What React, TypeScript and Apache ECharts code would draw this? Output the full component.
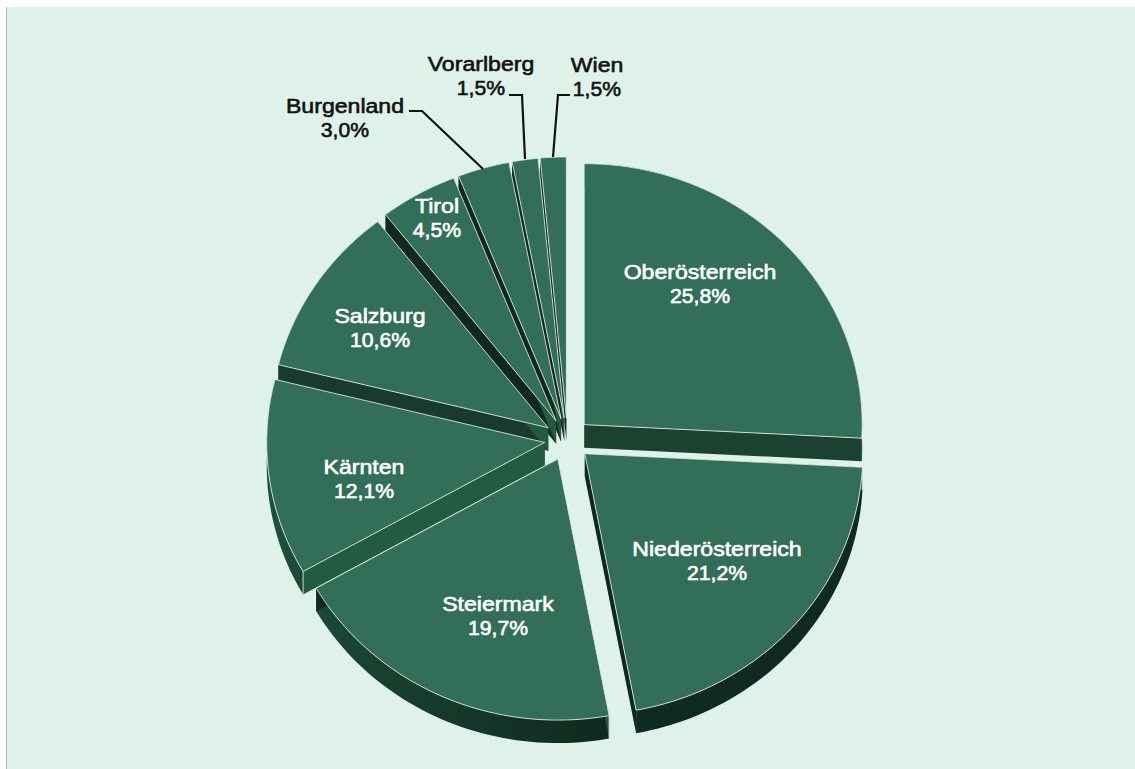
import React, { useEffect, useRef } from "react";
import * as echarts from "echarts";

// Regional shares in percent, clockwise from twelve o'clock.
const regions = ["Oberösterreich", "Niederösterreich", "Steiermark", "Kärnten", "Salzburg", "Tirol", "Burgenland", "Vorarlberg", "Wien"];
const shares = [25.8, 21.2, 19.7, 12.1, 10.6, 4.5, 3.0, 1.5, 1.5];

// Pie geometry in pixels.
const CX = 567.5, CY = 439.5, RX = 278, RY = 261, DEPTH = 23, EXPLODE = 23;

// Label centres and leader lines, by region index.
const labelCentres: [number, number][] = [
  [700, 284], [717, 561], [498, 616], [364, 479], [380, 328], [437, 218], [345, 118], [481, 76], [597, 77],
];
const leaders: Record<number, [number, number][]> = {
  6: [[409, 111], [422, 111], [483, 169]],
  7: [[509, 95], [522, 95], [525, 159]],
  8: [[570, 95], [558, 95], [553, 157]],
};
const OUTSIDE_FROM = 6;

const BACKGROUND = "#dff2ea";
const TOP_FILL = "#336f58";
const EDGE = "rgba(232,244,238,0.8)";

const hexToRgb = (h: string) => [1, 3, 5].map((i) => parseInt(h.slice(i, i + 2), 16));
const mix = (a: string, b: string, t: number) => {
  const k = Math.max(0, Math.min(1, t));
  const [p, q] = [hexToRgb(a), hexToRgb(b)];
  return `rgb(${p.map((v, i) => Math.round(v + (q[i] - v) * k)).join(",")})`;
};

// Flat faces get darker as their normal turns from lower right to lower left.
const sideColor = (normalDeg: number) => {
  if (normalDeg < 185) return mix("#235a42", "#1a4030", (normalDeg - 150) / 35);
  return mix("#1a4030", "#10281e", (normalDeg - 185) / 47);
};
// The rim is darkest at the bottom and lightens toward the left.
const rimColor = (deg: number) => mix("#0f2a1e", "#1f4e3a", (deg - 170) / 80);

const total = shares.reduce((a, b) => a + b, 0);
const startOf = shares.map((_, i) => shares.slice(0, i).reduce((a, b) => a + b, 0));
const toDeg = (share: number) => (share / total) * 360;
const rad = (d: number) => (d * Math.PI) / 180;

// Slices nearer the viewer are painted later.
const paintRank = (() => {
  const order = shares
    .map((v, i) => ({ i, y: -Math.cos(rad(toDeg(startOf[i] + v / 2))) }))
    .sort((a, b) => a.y - b.y);
  const rank: number[] = [];
  order.forEach((o, r) => (rank[o.i] = r));
  return rank;
})();

function labelLine(text: string, x: number, y: number, ink: string, scaleX: number) {
  return {
    type: "text",
    z2: 200,
    x,
    y,
    scaleX,
    style: {
      text,
      fill: ink,
      stroke: ink,
      lineWidth: 0.6,
      font: '21px "Liberation Sans", Arial, sans-serif',
      align: "center",
      verticalAlign: "middle",
    },
  };
}

function renderSlice(params: any, api: any) {
  const i = params.dataIndex;
  const value = api.value(0);
  const d0 = toDeg(startOf[i]);
  const d1 = d0 + toDeg(value);
  const mid = (d0 + d1) / 2;
  const ax = CX + EXPLODE * Math.sin(rad(mid));
  const ay = CY - EXPLODE * (RY / RX) * Math.cos(rad(mid));
  const at = (d: number): [number, number] => [ax + RX * Math.sin(rad(d)), ay - RY * Math.cos(rad(d))];

  const steps = Math.max(4, Math.ceil((d1 - d0) / 1.5));
  const arc: [number, number][] = [];
  for (let s = 0; s <= steps; s++) arc.push(at(d0 + ((d1 - d0) * s) / steps));
  const drop = (p: [number, number]): [number, number] => [p[0], p[1] + DEPTH];

  const base = paintRank[i] * 10;
  const children: any[] = [];

  // Outer wall, shaded along its length.
  const xs = arc.map((p) => p[0]);
  const xMin = Math.min(...xs), xMax = Math.max(...xs);
  const stops = arc
    .map((p, s) => ({
      offset: (p[0] - xMin) / Math.max(1, xMax - xMin),
      color: rimColor(d0 + ((d1 - d0) * s) / steps),
    }))
    .sort((a, b) => a.offset - b.offset);
  children.push({
    type: "polygon",
    z2: base,
    shape: { points: [...arc, ...arc.map(drop).reverse()] },
    style: {
      fill: { type: "linear", x: xMin, y: 0, x2: xMax, y2: 0, global: true, colorStops: stops },
    },
  });

  // Flat cut faces at both ends of the slice.
  const apex: [number, number] = [ax, ay];
  const faces: [[number, number], number][] = [
    [arc[0], d0 - 90 < 0 ? d0 + 270 : d0 - 90],
    [arc[arc.length - 1], (d1 + 90) % 360],
  ];
  faces.forEach(([corner, normal]) => {
    const fill = sideColor(normal);
    children.push({
      type: "polygon",
      z2: base + 1,
      shape: { points: [apex, corner, drop(corner), drop(apex)] },
      style: { fill },
    });
    if (normal < 170) {
      children.push({
        type: "line",
        z2: base + 2,
        shape: { x1: corner[0], y1: corner[1], x2: corner[0], y2: corner[1] + DEPTH },
        style: { stroke: EDGE, lineWidth: 1 },
      });
    }
  });

  // Top of the slice.
  children.push({
    type: "polygon",
    z2: base + 3,
    shape: { points: [apex, ...arc] },
    style: { fill: TOP_FILL, stroke: EDGE, lineWidth: 1, lineJoin: "round" },
  });

  const [lx, ly] = labelCentres[i];
  const ink = i >= OUTSIDE_FROM ? "#111111" : "#ffffff";
  children.push(labelLine(regions[i], lx, ly - 12, ink, 1.1));
  children.push(labelLine(`${value.toFixed(1).replace(".", ",")}%`, lx, ly + 12, ink, 1.01));

  if (leaders[i]) {
    children.push({
      type: "polyline",
      z2: 201,
      shape: { points: leaders[i] },
      style: { stroke: "#111111", lineWidth: 2.2, fill: "none" },
    });
  }

  return { type: "group", children };
}

export default function App() {
  const ref = useRef<HTMLDivElement>(null);
  useEffect(() => {
    const chart = echarts.init(ref.current!, undefined, { renderer: "svg" });
    chart.setOption({
      animation: false,
      backgroundColor: "#ffffff",
      graphic: [
        { type: "rect", z: -10, shape: { x: 7, y: 7, width: 1128, height: 762 }, style: { fill: BACKGROUND } },
        { type: "line", z: -9, shape: { x1: 6.5, y1: 7, x2: 6.5, y2: 769 }, style: { stroke: "#b4bdb9", lineWidth: 1 } },
      ],
      series: [
        {
          type: "custom",
          coordinateSystem: "none",
          clip: false,
          silent: true,
          renderItem: renderSlice,
          data: shares.map((v, i) => ({ name: regions[i], value: [v] })),
        },
      ],
    });
    return () => chart.dispose();
  }, []);
  return <div ref={ref} style={{ position: "fixed", left: 0, top: 0, width: 1135, height: 769 }} />;
}
